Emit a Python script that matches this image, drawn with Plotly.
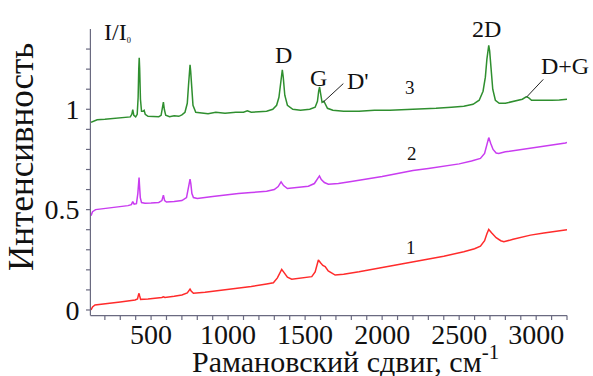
import plotly.graph_objects as go

# Raman shift (cm^-1) and normalised intensity for the three spectra
shift_1 = [110, 120, 136, 200, 300, 396, 412, 418, 422, 426, 432, 480, 550, 570, 580, 590,
           650, 700, 735, 748, 753, 760, 775, 850, 950, 1067, 1150, 1250, 1294, 1320, 1338,
           1348, 1360, 1385, 1413, 1480, 1543, 1565, 1578, 1586, 1600, 1615, 1630, 1650, 1695,
           1750, 1850, 1950, 2097, 2200, 2300, 2400, 2530, 2600, 2638, 2665, 2680, 2692, 2710,
           2740, 2770, 2790, 2850, 2900, 2963, 3050, 3120, 3190, 3200]
intensity_1 = [0.0, 0.015, 0.025, 0.03, 0.04, 0.05, 0.055, 0.075, 0.083, 0.07, 0.053, 0.055,
               0.06, 0.062, 0.066, 0.062, 0.068, 0.075, 0.085, 0.1, 0.104, 0.095, 0.083, 0.088,
               0.097, 0.108, 0.117, 0.13, 0.136, 0.16, 0.19, 0.202, 0.19, 0.163, 0.153, 0.158,
               0.166, 0.19, 0.23, 0.249, 0.235, 0.222, 0.216, 0.195, 0.174, 0.178, 0.19, 0.204,
               0.224, 0.238, 0.253, 0.268, 0.29, 0.305, 0.318, 0.345, 0.38, 0.401, 0.385, 0.36,
               0.345, 0.34, 0.352, 0.363, 0.373, 0.383, 0.39, 0.398, 0.4]

shift_2 = [110, 120, 140, 200, 250, 300, 350, 372, 381, 390, 405, 414, 419, 422, 425, 430,
           438, 460, 500, 550, 570, 580, 588, 600, 650, 700, 730, 740, 748, 753, 758, 765,
           775, 800, 900, 1000, 1067, 1150, 1250, 1300, 1325, 1344, 1360, 1385, 1450, 1521,
           1560, 1580, 1593, 1605, 1625, 1651, 1716, 1800, 1900, 2000, 2100, 2200, 2300, 2400,
           2500, 2580, 2638, 2665, 2680, 2692, 2705, 2720, 2740, 2757, 2800, 2880, 2963, 3050,
           3120, 3190, 3200]
intensity_2 = [0.47, 0.49, 0.5, 0.505, 0.51, 0.515, 0.52, 0.525, 0.54, 0.527, 0.53, 0.58,
               0.64, 0.66, 0.62, 0.56, 0.535, 0.532, 0.533, 0.536, 0.545, 0.572, 0.545, 0.538,
               0.54, 0.545, 0.56, 0.6, 0.64, 0.652, 0.63, 0.58, 0.56, 0.555, 0.565, 0.575, 0.58,
               0.585, 0.592, 0.6, 0.615, 0.638, 0.62, 0.605, 0.61, 0.617, 0.63, 0.655, 0.668,
               0.65, 0.635, 0.627, 0.63, 0.64, 0.652, 0.665, 0.68, 0.695, 0.705, 0.715, 0.728,
               0.742, 0.755, 0.78, 0.82, 0.859, 0.83, 0.8, 0.782, 0.78, 0.788, 0.797, 0.804,
               0.815, 0.823, 0.832, 0.835]

shift_3 = [110, 150, 200, 250, 300, 340, 365, 375, 381, 388, 400, 410, 416, 420, 423, 426,
           431, 438, 448, 455, 462, 480, 520, 550, 565, 574, 580, 586, 595, 620, 650, 680,
           700, 720, 735, 743, 749, 753, 757, 763, 772, 790, 820, 870, 920, 980, 1050, 1100,
           1125, 1150, 1200, 1250, 1290, 1315, 1330, 1340, 1347, 1352, 1358, 1368, 1385, 1420,
           1470, 1530, 1565, 1580, 1588, 1594, 1600, 1610, 1622, 1630, 1645, 1680, 1750, 1850,
           1950, 2050, 2150, 2250, 2350, 2450, 2530, 2590, 2630, 2655, 2670, 2680, 2687, 2692,
           2698, 2706, 2718, 2735, 2760, 2800, 2860, 2910, 2935, 2950, 2970, 3000, 3050, 3100,
           3150, 3200]
intensity_3 = [0.935, 0.948, 0.95, 0.953, 0.955, 0.958, 0.962, 0.975, 0.998, 0.97, 0.962,
               0.975, 1.06, 1.2, 1.257, 1.2, 1.05, 0.99, 0.99, 0.995, 0.975, 0.965, 0.962,
               0.963, 0.97, 1.0, 1.036, 1.0, 0.97, 0.963, 0.968, 0.965, 0.972, 0.985, 1.03,
               1.12, 1.2, 1.222, 1.19, 1.09, 1.02, 0.985, 0.982, 0.978, 0.985, 0.98, 0.985,
               0.985, 0.992, 0.985, 0.988, 0.99, 1.0, 1.02, 1.06, 1.13, 1.185, 1.197, 1.16,
               1.07, 1.02, 1.0, 0.995, 1.0, 1.01, 1.04, 1.09, 1.111, 1.08, 1.035, 1.04, 1.03,
               1.005, 0.995, 0.99, 0.99, 0.995, 0.995, 0.998, 1.0, 1.005, 1.01, 1.015, 1.025,
               1.045, 1.09, 1.16, 1.25, 1.3, 1.318, 1.29, 1.2, 1.1, 1.045, 1.03, 1.03, 1.04,
               1.05, 1.062, 1.058, 1.045, 1.045, 1.042, 1.045, 1.046, 1.05]

# Tick positions: every 100 cm^-1 and every 0.1, labelled only at the major steps
x_ticks = list(range(200, 3201, 100))
x_labels = {500: "500", 1000: "1000", 1500: "1500", 2000: "2000", 2500: "2500", 3000: "3000"}
y_ticks = [0, 0.1, 0.2, 0.3, 0.4, 0.5, 0.6, 0.7, 0.8, 0.9, 1.0, 1.1, 1.2, 1.3]
y_labels = {0: "0", 0.5: "0.5", 1.0: "1"}

# Band labels: text, x, y
band_labels = [("D", 1358, 1.27), ("G", 1587, 1.157), ("D'", 1843, 1.139),
               ("2D", 2679, 1.398), ("D+G", 3185, 1.214)]
# Spectrum numbers: text, x, y
curve_numbers = [("3", 2180, 1.109), ("2", 2194, 0.78), ("1", 2188, 0.313)]
# Leader lines from band to label: x0, y0, x1, y1
leaders = [(1618, 1.036, 1748, 1.128), (2938, 1.061, 3046, 1.149)]

SERIF = "Liberation Serif"
AXIS_GREY = "#6a6a80"
INK = "#111111"
X_RANGE = [110, 3200]
Y_RANGE = [-0.025, 1.4]
PLOT_W, PLOT_H = 476, 286          # plot-area size in px
TICK_PX = 5


def x_frac(v):
    """Position of a shift value along the x axis, as a fraction of the plot width."""
    return (v - X_RANGE[0]) / (X_RANGE[1] - X_RANGE[0])


def y_frac(v):
    """Position of an intensity value along the y axis, as a fraction of the plot height."""
    return (v - Y_RANGE[0]) / (Y_RANGE[1] - Y_RANGE[0])


fig = go.Figure()
for xs, ys, col in [(shift_1, intensity_1, "#ff2b2b"),
                    (shift_2, intensity_2, "#c93cf0"),
                    (shift_3, intensity_3, "#2f8f2f")]:
    fig.add_trace(go.Scatter(x=xs, y=ys, mode="lines",
                             line=dict(color=col, width=1.5), showlegend=False))

# Axis spines and outward tick marks on the left and bottom edges
axis_line = dict(color=AXIS_GREY, width=1.2)
edge_x = -0.6 / PLOT_W
edge_y = -0.6 / PLOT_H
fig.add_shape(type="line", xref="paper", yref="paper", x0=edge_x, x1=1,
              y0=edge_y, y1=edge_y, line=axis_line)
fig.add_shape(type="line", xref="paper", yref="paper", x0=edge_x, x1=edge_x,
              y0=edge_y, y1=1, line=axis_line)
for v in x_ticks:
    fig.add_shape(type="line", xref="paper", yref="paper", x0=x_frac(v), x1=x_frac(v),
                  y0=edge_y, y1=-TICK_PX / PLOT_H, line=axis_line)
for v in y_ticks:
    fig.add_shape(type="line", xref="paper", yref="paper", x0=edge_x,
                  x1=-TICK_PX / PLOT_W, y0=y_frac(v), y1=y_frac(v), line=axis_line)

for txt, x, y in band_labels:
    fig.add_annotation(x=x, y=y, text=txt, showarrow=False,
                       font=dict(family=SERIF, size=24, color=INK))
for txt, x, y in curve_numbers:
    fig.add_annotation(x=x, y=y, text=txt, showarrow=False,
                       font=dict(family=SERIF, size=19, color=INK))
for x0, y0, x1, y1 in leaders:
    fig.add_shape(type="line", x0=x0, y0=y0, x1=x1, y1=y1,
                  line=dict(color="#222", width=1))

# Ordinate label at the top of the y axis
fig.add_annotation(x=285, y=1.385, showarrow=False,
                   text="I/I<span style='font-size:12px'><sub>0</sub></span>",
                   font=dict(family=SERIF, size=24, color=INK))

# Axis titles
fig.add_annotation(xref="paper", yref="paper", x=0.534, y=-0.154, showarrow=False,
                   xanchor="center", yanchor="middle",
                   text="Рамановский сдвиг, см<sup>-1</sup>",
                   font=dict(family=SERIF, size=30, color=INK))
fig.add_annotation(xref="paper", yref="paper", x=-0.146, y=0.551, showarrow=False,
                   xanchor="center", yanchor="middle", textangle=-90,
                   text="Интенсивность",
                   font=dict(family=SERIF, size=35, color=INK))

fig.update_layout(
    width=593, height=376,
    margin=dict(l=91, r=26, t=29, b=61),
    paper_bgcolor="white", plot_bgcolor="white",
    font=dict(family=SERIF, color=INK),
    xaxis=dict(range=X_RANGE, tickmode="array", tickvals=x_ticks,
               ticktext=[x_labels.get(v, "") for v in x_ticks],
               ticks="", showline=False, showgrid=False, zeroline=False,
               automargin=False,
               tickfont=dict(family=SERIF, size=28, color=INK)),
    yaxis=dict(range=Y_RANGE, tickmode="array", tickvals=y_ticks,
               ticktext=[y_labels.get(v, "") for v in y_ticks],
               ticks="outside", ticklen=TICK_PX, tickcolor="rgba(0,0,0,0)",
               showline=False, showgrid=False, zeroline=False, automargin=False,
               tickfont=dict(family=SERIF, size=28, color=INK)),
)

fig.write_html("out.html")
